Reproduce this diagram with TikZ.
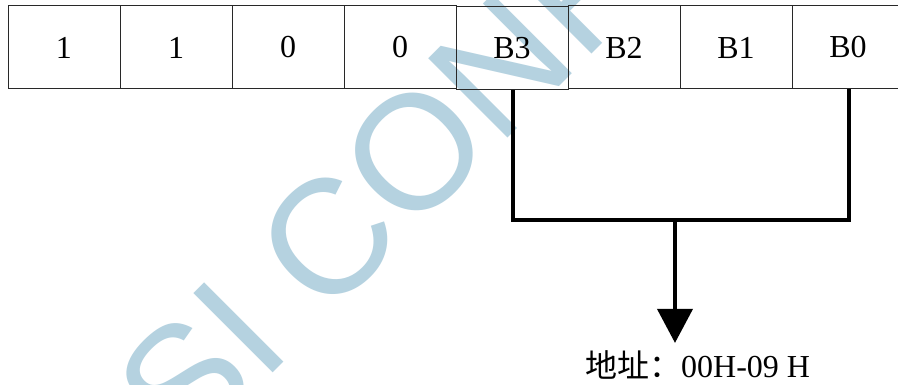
\documentclass[tikz,border=0pt]{standalone}
\usepackage{fontspec}
\setmainfont{Liberation Serif}
\newfontfamily\cjk{Noto Sans CJK SC}
\newfontfamily\wmfont{Liberation Sans}
\usetikzlibrary{arrows.meta}
\definecolor{wm}{RGB}{181,210,224}
\definecolor{cellline}{RGB}{40,40,40}
\tikzset{
  cell/.style={draw=cellline, line width=1pt, minimum width=112pt, minimum height=83pt,
    inner sep=0pt, font=\fontsize{32}{32}\selectfont},
  bus/.style={line width=4pt, line join=miter},
  busarrow/.style={line width=4pt, -{Triangle[width=35pt,length=34pt]}, shorten >=7pt},
  watermark/.style={text=wm, font=\wmfont\fontsize{163}{163}\selectfont, rotate=45,
    anchor=base west, inner sep=0pt},
  addr/.style={font=\fontsize{32}{32}\selectfont, anchor=base west, inner sep=0pt}
}
\begin{document}
\begin{tikzpicture}[x=1pt,y=-1pt]
\useasboundingbox (0,0) rectangle (898,385);
\clip (0,0) rectangle (898,385);
\fill[white] (0,0) rectangle (898,385);
\node[watermark] (wmark) at (185,461) {SI CONF};
\node[cell] (c7) at (64,47.5) {1};
\node[cell] (c6) at (176,47.5) {1};
\node[cell] (c5) at (288,47.5) {0};
\node[cell] (c4) at (400,47.5) {0};
\node[cell] (c2) at (624,47.5) {B2};
\node[cell] (c1) at (736,47.5) {B1};
\node[cell] (c0) at (848,47.5) {B0};
\node[cell] (c3) at (512,48.5) {B3};
\coordinate (j3) at (513,220);
\coordinate (j0) at (849,220);
\coordinate (jm) at (675,220);
\draw[bus] (c3.south -| j3) -- (j3) -- (j0) -- (c0.south -| j0);
\node[addr] (addr) at (585,377) {{\cjk 地址：}00H-09 H};
\draw[busarrow] (jm) -- (jm |- addr.north);
\end{tikzpicture}
\end{document}
